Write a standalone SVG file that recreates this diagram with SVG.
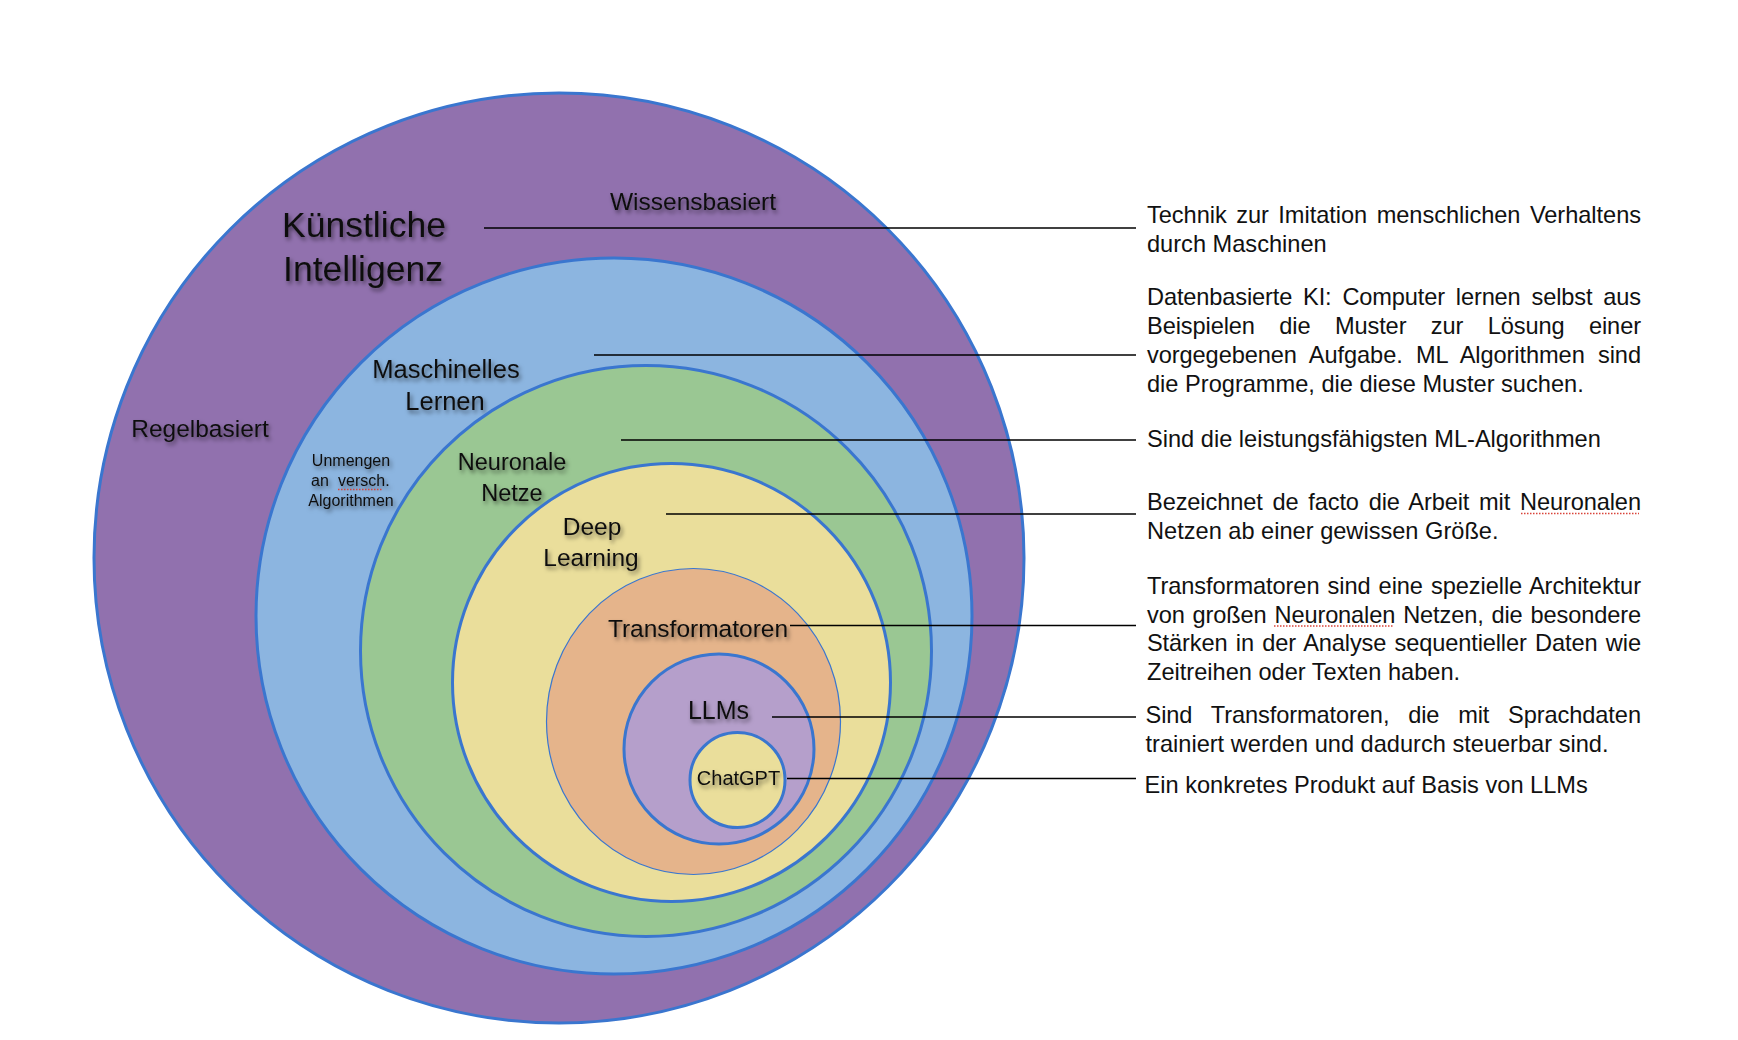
<svg xmlns="http://www.w3.org/2000/svg" width="1738" height="1040" viewBox="0 0 1738 1040">
<defs>
<filter id="sh" x="-15%" y="-30%" width="140%" height="180%">
<feDropShadow dx="2" dy="3" stdDeviation="2" flood-color="#000" flood-opacity="0.5"/>
</filter>
</defs>
<style>
.ring{stroke:#3A76CF;stroke-width:3}
.lbl{font-family:"Liberation Sans",Helvetica,Arial,sans-serif;fill:#111;text-anchor:middle;filter:url(#sh)}
.desc{font-family:"Liberation Sans",Helvetica,Arial,sans-serif;font-size:23.6px;fill:#111}
.con{stroke:#000;stroke-width:1.3;fill:none}
.spell{stroke:#D9443A;stroke-width:1.5;stroke-dasharray:1.5 1.5;fill:none}
</style>
<rect width="1738" height="1040" fill="#fff"/>

<g id="ki">
<circle class="ring" cx="559" cy="558" r="465" fill="#9171AE" stroke-width="2.5"/>
<text class="lbl" x="364" y="237" font-size="35.5">Künstliche</text>
<text class="lbl" x="363" y="281" font-size="35.5">Intelligenz</text>
<text class="lbl" x="693" y="210" font-size="24.5">Wissensbasiert</text>
<text class="lbl" x="200" y="437" font-size="24.5">Regelbasiert</text>
</g>

<g id="ml">
<circle class="ring" cx="614" cy="616" r="358" fill="#8CB5E0"/>
<text class="lbl" x="446" y="378" font-size="25.5">Maschinelles</text>
<text class="lbl" x="445" y="410" font-size="25.5">Lernen</text>
<text class="lbl" x="351" y="466" font-size="16">Unmengen</text>
<text class="lbl" y="486" font-size="16" style="text-anchor:start"><tspan x="311">an</tspan><tspan x="338">versch.</tspan></text>
<line class="spell" x1="338" y1="489.5" x2="383" y2="489.5"/>
<text class="lbl" x="351" y="506" font-size="16">Algorithmen</text>
</g>

<g id="nn">
<circle class="ring" cx="646" cy="651" r="285.5" fill="#9AC793"/>
<text class="lbl" x="512" y="470" font-size="23.5">Neuronale</text>
<text class="lbl" x="512" y="501" font-size="23.5">Netze</text>
</g>

<g id="dl">
<circle class="ring" cx="671.5" cy="682.5" r="219" fill="#EADE9B"/>
<text class="lbl" x="592" y="535" font-size="24.5">Deep</text>
<text class="lbl" x="591" y="566" font-size="24.5">Learning</text>
</g>

<g id="trafo">
<ellipse cx="693.5" cy="721.5" rx="147" ry="153" fill="#E5B48B" stroke="#3A76CF" stroke-width="1.2"/>
<text class="lbl" x="698" y="637" font-size="24.5">Transformatoren</text>
</g>

<g id="llm">
<circle class="ring" cx="719" cy="749" r="95" fill="#B59FCB"/>
<text class="lbl" x="718.5" y="719" font-size="25">LLMs</text>
</g>

<g id="chatgpt">
<circle class="ring" cx="737.5" cy="780" r="47.5" fill="#EADE9B"/>
<text class="lbl" x="738.5" y="784.5" font-size="20">ChatGPT</text>
</g>

<g id="connectors">
<line class="con" x1="484" y1="228" x2="1136" y2="228"/>
<line class="con" x1="594" y1="355" x2="1136" y2="355"/>
<line class="con" x1="621" y1="440" x2="1136" y2="440"/>
<line class="con" x1="666" y1="514" x2="1136" y2="514"/>
<line class="con" x1="790" y1="625.5" x2="1136" y2="625.5"/>
<line class="con" x1="772" y1="717" x2="1136" y2="717"/>
<line class="con" x1="787" y1="778.5" x2="1136" y2="778.5"/>
</g>

<g id="desc-ki">
<text class="desc" x="1147" y="223" word-spacing="3" textLength="494" lengthAdjust="spacing">Technik zur Imitation menschlichen Verhaltens</text>
<text class="desc" x="1147" y="252">durch Maschinen</text>
</g>
<g id="desc-ml">
<text class="desc" x="1147" y="305" word-spacing="4.5" textLength="494" lengthAdjust="spacing">Datenbasierte KI: Computer lernen selbst aus</text>
<text class="desc" x="1147" y="334" word-spacing="18" textLength="494" lengthAdjust="spacing">Beispielen die Muster zur Lösung einer</text>
<text class="desc" x="1147" y="363" word-spacing="6.8" textLength="494" lengthAdjust="spacing">vorgegebenen Aufgabe. ML Algorithmen sind</text>
<text class="desc" x="1147" y="392">die Programme, die diese Muster suchen.</text>
</g>
<g id="desc-nn">
<text class="desc" x="1147" y="447">Sind die leistungsfähigsten ML-Algorithmen</text>
</g>
<g id="desc-dl">
<text class="desc" x="1147" y="509.5" word-spacing="3.3" textLength="494" lengthAdjust="spacing">Bezeichnet de facto die Arbeit mit Neuronalen</text>
<line class="spell" x1="1521" y1="513.5" x2="1639" y2="513.5"/>
<text class="desc" x="1147" y="538.5">Netzen ab einer gewissen Größe.</text>
</g>
<g id="desc-trafo">
<text class="desc" x="1147" y="593.5" word-spacing="1.6" textLength="494" lengthAdjust="spacing">Transformatoren sind eine spezielle Architektur</text>
<text class="desc" x="1147" y="622.5" word-spacing="1.5" textLength="494" lengthAdjust="spacing">von großen Neuronalen Netzen, die besondere</text>
<line class="spell" x1="1274" y1="626" x2="1394" y2="626"/>
<text class="desc" x="1147" y="651" word-spacing="2" textLength="494" lengthAdjust="spacing">Stärken in der Analyse sequentieller Daten wie</text>
<text class="desc" x="1147" y="680">Zeitreihen oder Texten haben.</text>
</g>
<g id="desc-llm">
<text class="desc" x="1145.5" y="723" word-spacing="12.3" textLength="495.5" lengthAdjust="spacing">Sind Transformatoren, die mit Sprachdaten</text>
<text class="desc" x="1145.5" y="751.5">trainiert werden und dadurch steuerbar sind.</text>
</g>
<g id="desc-chatgpt">
<text class="desc" x="1144.5" y="792.5">Ein konkretes Produkt auf Basis von LLMs</text>
</g>
</svg>
